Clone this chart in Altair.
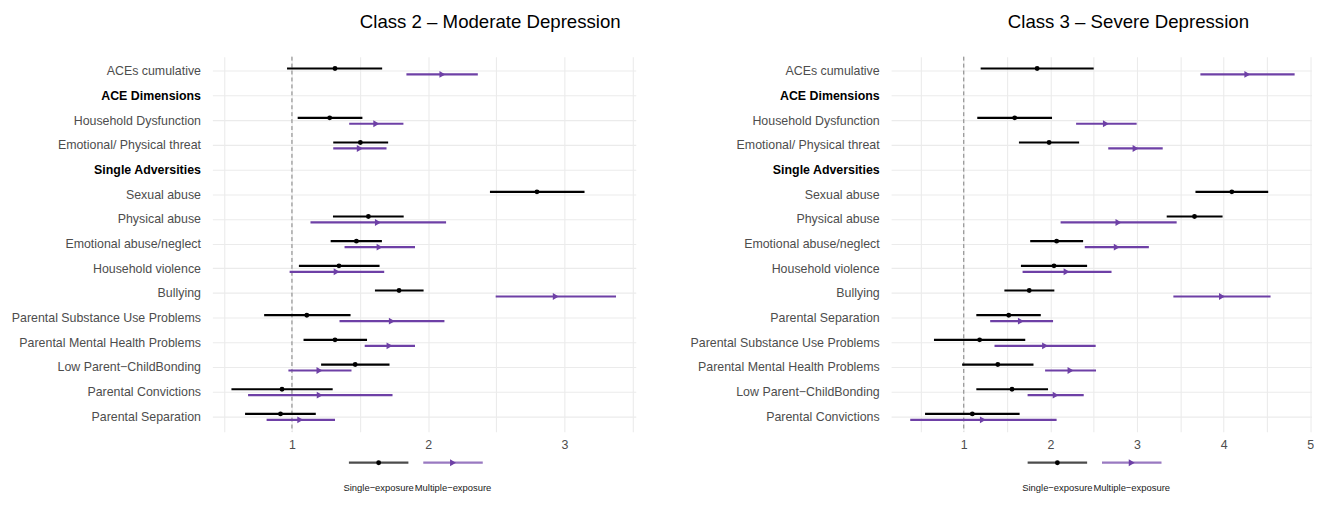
import altair as alt
import pandas as pd

# ---------------- data ----------------
exposures = ["Single\u2212exposure", "Multiple\u2212exposure"]
headers = ["ACE Dimensions", "Single Adversities"]

rows_c2 = ["ACEs cumulative", "ACE Dimensions", "Household Dysfunction",
           "Emotional/ Physical threat", "Single Adversities", "Sexual abuse",
           "Physical abuse", "Emotional abuse/neglect", "Household violence",
           "Bullying", "Parental Substance Use Problems",
           "Parental Mental Health Problems", "Low Parent\u2212ChildBonding",
           "Parental Convictions", "Parental Separation"]

rows_c3 = ["ACEs cumulative", "ACE Dimensions", "Household Dysfunction",
           "Emotional/ Physical threat", "Single Adversities", "Sexual abuse",
           "Physical abuse", "Emotional abuse/neglect", "Household violence",
           "Bullying", "Parental Separation", "Parental Substance Use Problems",
           "Parental Mental Health Problems", "Low Parent\u2212ChildBonding",
           "Parental Convictions"]

# Class 2 - Moderate Depression (order of rows_c2)
c2_single_est = [1.316, None, 1.277, 1.502, None, 2.798, 1.561, 1.473, 1.345, 1.786, 1.109, 1.316, 1.464, 0.927, 0.916]
c2_single_lo = [0.964, None, 1.042, 1.303, None, 2.453, 1.301, 1.284, 1.051, 1.609, 0.796, 1.085, 1.214, 0.556, 0.656]
c2_single_hi = [1.662, None, 1.517, 1.706, None, 3.147, 1.820, 1.660, 1.643, 1.966, 1.430, 1.551, 1.716, 1.299, 1.175]
c2_multi_est = [2.104, None, 1.619, 1.498, None, None, 1.631, 1.643, 1.328, 2.936, 1.733, 1.716, 1.202, 1.204, 1.061]
c2_multi_lo = [1.840, None, 1.420, 1.303, None, None, 1.136, 1.386, 0.983, 2.495, 1.349, 1.534, 0.974, 0.678, 0.814]
c2_multi_hi = [2.364, None, 1.818, 1.694, None, None, 2.131, 1.903, 1.677, 3.378, 2.119, 1.903, 1.437, 1.738, 1.316]

# Class 3 - Severe Depression (order of rows_c3)
c3_single_est = [1.847, None, 1.588, 1.985, None, 4.095, 3.664, 2.072, 2.042, 1.756, 1.519, 1.183, 1.393, 1.557, 1.099]
c3_single_lo = [1.195, None, 1.156, 1.637, None, 3.675, 3.343, 1.767, 1.660, 1.469, 1.145, 0.656, 0.981, 1.145, 0.553]
c3_single_hi = [2.500, None, 2.019, 2.332, None, 4.515, 3.988, 2.378, 2.424, 2.046, 1.889, 1.710, 1.805, 1.973, 1.645]
c3_multi_est = [4.274, None, 2.641, 2.984, None, None, 2.786, 2.767, 2.187, 3.981, 1.660, 1.939, 2.233, 2.061, 1.221]
c3_multi_lo = [3.732, None, 2.297, 2.668, None, None, 2.118, 2.397, 1.679, 3.420, 1.305, 1.355, 1.939, 1.737, 0.382]
c3_multi_hi = [4.820, None, 2.996, 3.297, None, None, 3.458, 3.137, 2.706, 4.542, 2.031, 2.523, 2.527, 2.385, 2.072]

ref_value = [1]
c2_ticks = [0.5, 1, 1.5, 2, 2.5, 3, 3.5]
c3_ticks = [0.5, 1, 1.5, 2, 2.5, 3, 3.5, 4, 4.5, 5]

title_c2 = "Class 2 \u2013 Moderate Depression"
title_c3 = "Class 3 \u2013 Severe Depression"

# ---------------- build tables ----------------
def long_table(rows, s_est, s_lo, s_hi, m_est, m_lo, m_hi):
    recs = []
    for i, r in enumerate(rows):
        if s_est[i] is not None:
            recs.append({"row": r, "exposure": exposures[0], "est": s_est[i], "lo": s_lo[i], "hi": s_hi[i]})
        if m_est[i] is not None:
            recs.append({"row": r, "exposure": exposures[1], "est": m_est[i], "lo": m_lo[i], "hi": m_hi[i]})
    return pd.DataFrame(recs)

df2 = long_table(rows_c2, c2_single_est, c2_single_lo, c2_single_hi, c2_multi_est, c2_multi_lo, c2_multi_hi)
df3 = long_table(rows_c3, c3_single_est, c3_single_lo, c3_single_hi, c3_multi_est, c3_multi_lo, c3_multi_hi)

FONT = "Liberation Sans"
PURPLE = "#6e40a6"
color_scale = alt.Scale(domain=exposures, range=["#000000", PURPLE])
shape_scale = alt.Scale(domain=exposures, range=["circle", "triangle-right"])
size_scale = alt.Scale(domain=exposures, range=[24, 48])

hdr_test = " || ".join([f"datum.value == '{h}'" for h in headers])


def panel(df, rows, xmin, xmax, ticks, width, title, title_dx):
    y = alt.Y("row:N", sort=rows,
              scale=alt.Scale(domain=rows, paddingInner=0, paddingOuter=0.1),
              axis=alt.Axis(title=None, domain=False, ticks=False, tickSize=0,
                            labelPadding=12, labelFontSize=12.5, labelFont=FONT,
                            labelColor=alt.ExprRef(f"({hdr_test}) ? '#000000' : '#4d4d4d'"),
                            labelFontWeight=alt.ExprRef(f"({hdr_test}) ? 'bold' : 'normal'"),
                            grid=True, gridColor="#ebebeb", gridWidth=1.1,
                            bandPosition=0.5, labelLimit=400))
    yoff = alt.YOffset("exposure:N", sort=exposures,
                       scale=alt.Scale(domain=exposures, range=[6.44, 18.44],
                                       paddingInner=0, paddingOuter=0))
    xscale = alt.Scale(domain=[xmin, xmax], nice=False, zero=False)
    xaxis = alt.Axis(title=None, values=ticks, domain=False, ticks=False, tickSize=0,
                     labelExpr="datum.value % 1 == 0 ? format(datum.value, 'd') : ''",
                     labelFontSize=12.5, labelFont=FONT, labelColor="#4d4d4d",
                     labelPadding=7, grid=True, gridColor="#ebebeb", gridWidth=1.1)
    base = alt.Chart(df)
    ref = alt.Chart(pd.DataFrame({"v": ref_value})).mark_rule(
        color="#7f7f7f", strokeDash=[4, 3], strokeWidth=1
    ).encode(x=alt.X("v:Q", scale=xscale, axis=xaxis))
    bars = base.mark_rule(strokeWidth=2.2).encode(
        x=alt.X("lo:Q", scale=xscale, axis=xaxis), x2="hi:Q",
        y=y, yOffset=yoff,
        color=alt.Color("exposure:N", scale=color_scale, legend=None))
    pts = base.mark_point(filled=True, opacity=1).encode(
        x=alt.X("est:Q", scale=xscale, axis=xaxis), y=y, yOffset=yoff,
        color=alt.Color("exposure:N", scale=color_scale, legend=None),
        shape=alt.Shape("exposure:N", scale=shape_scale, legend=None),
        size=alt.Size("exposure:N", scale=size_scale, legend=None))
    return alt.layer(ref, bars, pts).properties(
        width=width, height=378.2,
        title=alt.TitleParams(title, anchor="start", frame="group", dx=title_dx,
                              fontSize=18.8, font=FONT, fontWeight="normal",
                              color="#000000", baseline="alphabetic", offset=9.2))


def key(width, start):
    kdf = pd.DataFrame({"exposure": exposures})
    kx = alt.X("exposure:N", sort=exposures,
               scale=alt.Scale(domain=exposures, paddingInner=0.2, paddingOuter=0,
                               range=[start, start + 135]),
               axis=alt.Axis(title=None, domain=False, ticks=False, tickSize=0,
                             grid=False, labelAngle=0, labelFontSize=9.5,
                             labelFont=FONT, labelColor="#1a1a1a", labelPadding=9))
    line = alt.Chart(kdf).mark_tick(orient="horizontal", thickness=2.2, size=60).encode(
        x=kx, color=alt.Color("exposure:N", scale=color_scale, legend=None))
    mk = alt.Chart(kdf).mark_point(filled=True, opacity=1).encode(
        x=kx, color=alt.Color("exposure:N", scale=color_scale, legend=None),
        shape=alt.Shape("exposure:N", scale=shape_scale, legend=None),
        size=alt.Size("exposure:N", scale=size_scale, legend=None))
    return alt.layer(line, mk).properties(width=width, height=23)


left = alt.vconcat(
    panel(df2, rows_c2, 0.416, 3.523, c2_ticks, 427, title_c2, 148.7),
    key(427, 137.7), spacing=0
).resolve_scale(x="independent", y="independent")

right = alt.vconcat(
    panel(df3, rows_c3, 0.161, 5.015, c3_ticks, 424, title_c3, 117.7),
    key(424, 137.7), spacing=0
).resolve_scale(x="independent", y="independent")

chart = alt.hconcat(left, right, spacing=53.5).resolve_scale(
    x="independent", y="independent"
).properties(
    padding={"left": 2.1, "top": 3, "right": 0, "bottom": 0}
).configure_view(stroke=None)

chart.save("out.html", embed_options={"renderer": "svg", "actions": False})
